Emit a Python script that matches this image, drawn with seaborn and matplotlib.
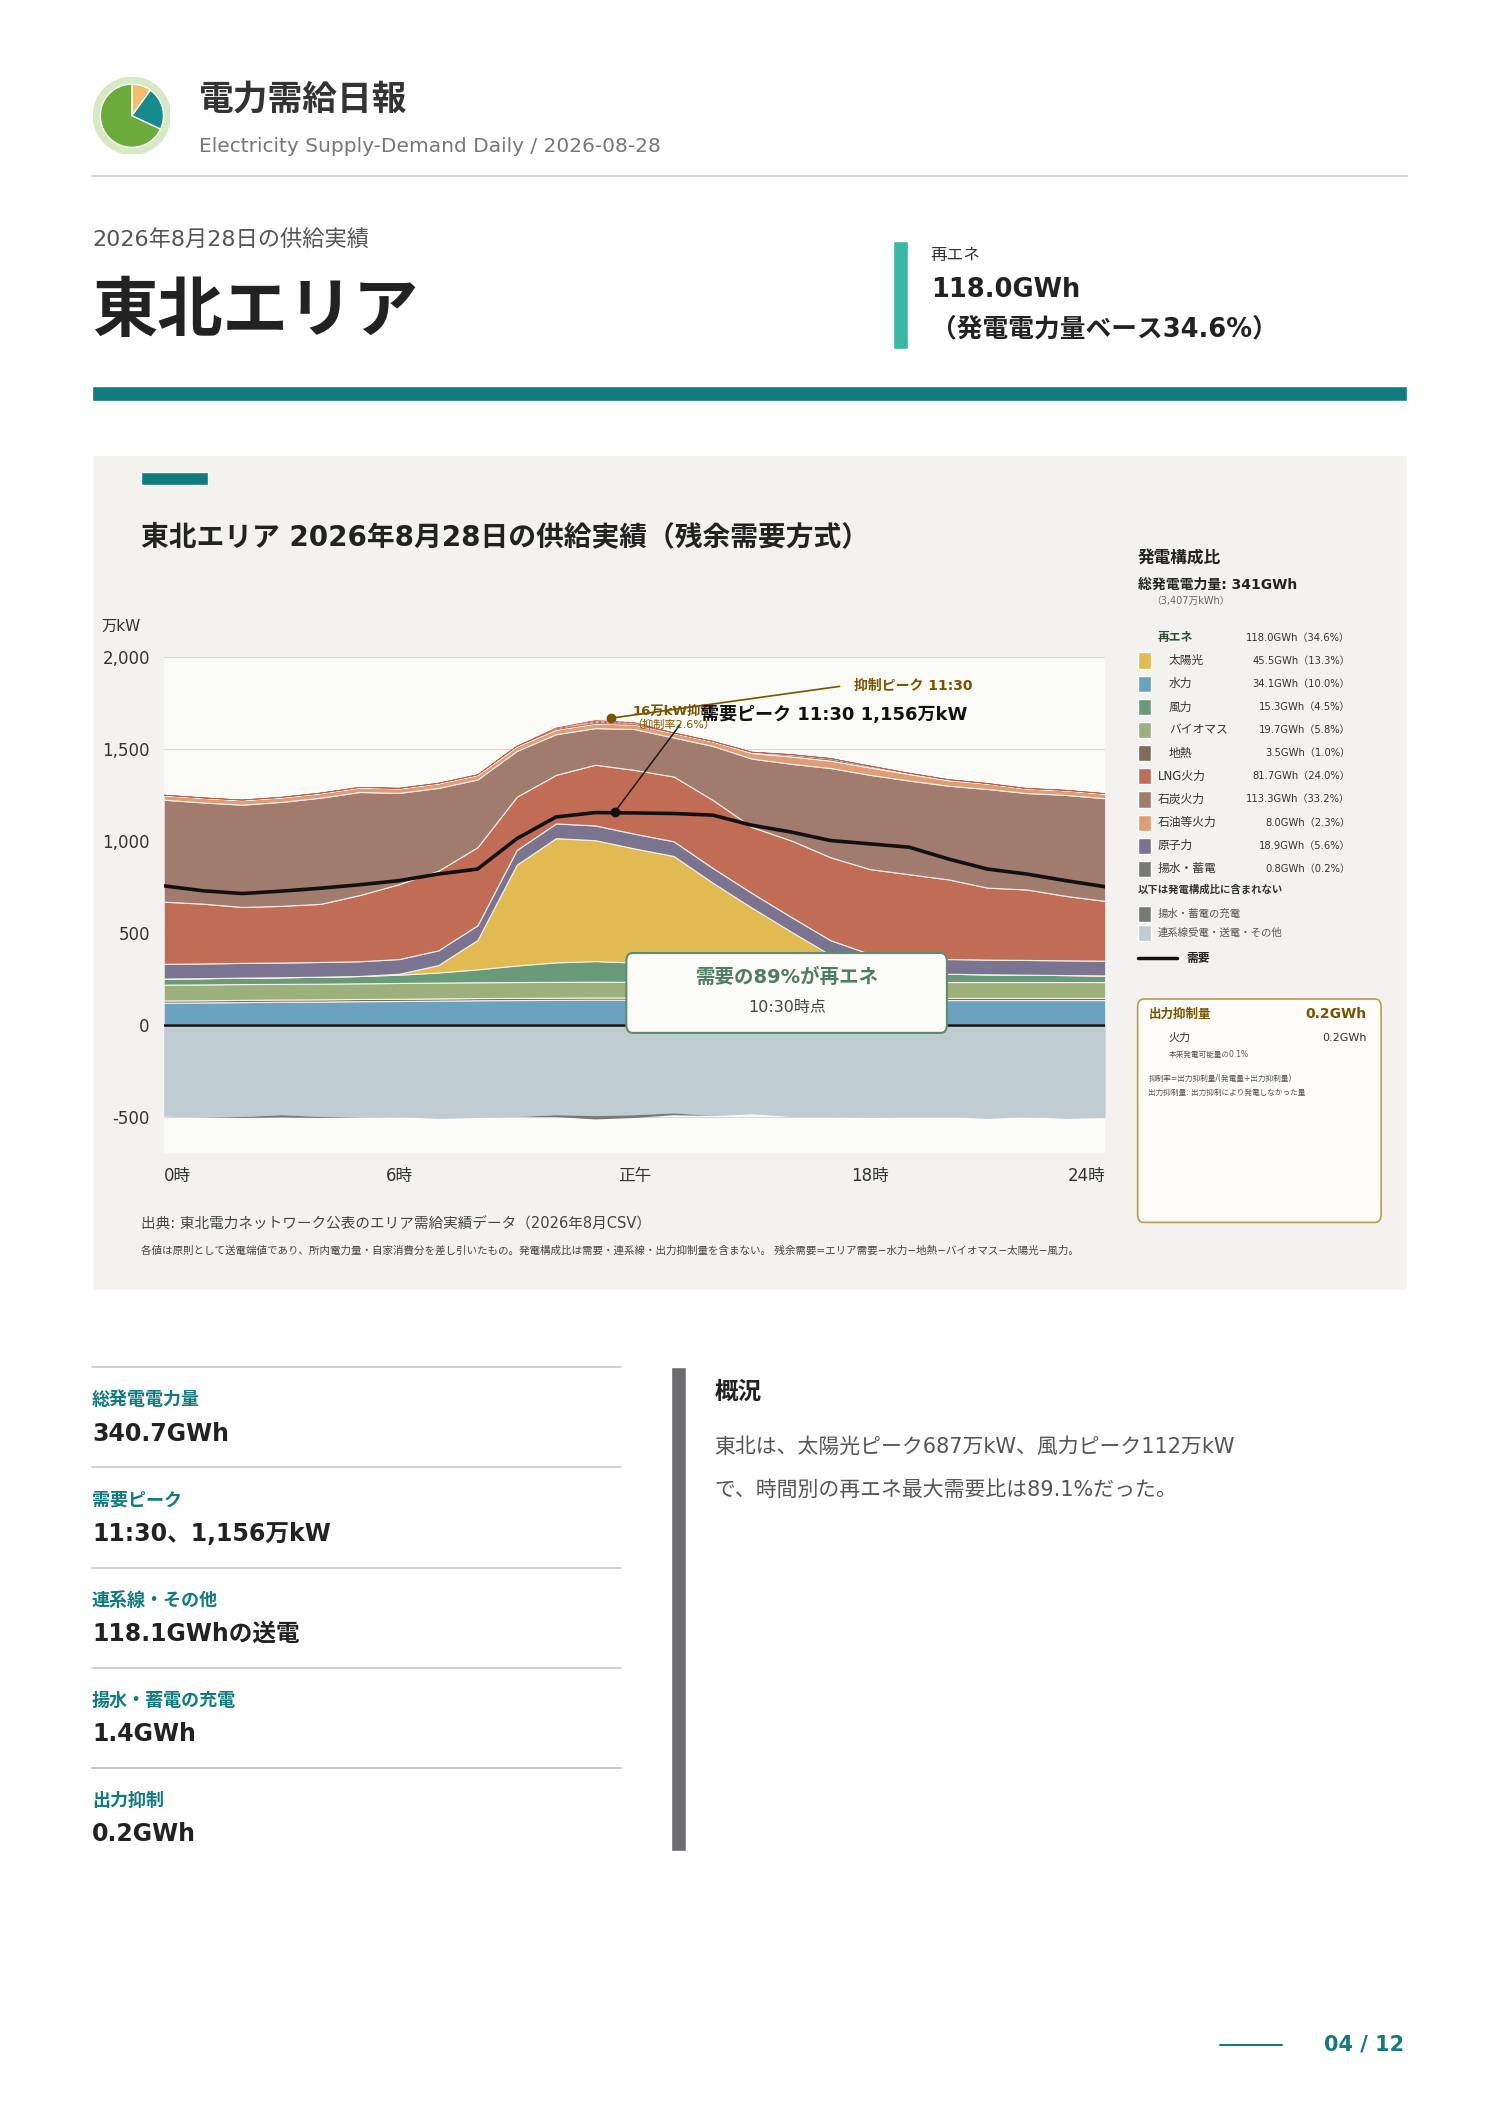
import numpy as np
import pandas as pd
import matplotlib
matplotlib.use("Agg")
import matplotlib.pyplot as plt
from matplotlib.patches import Rectangle, FancyBboxPatch, Circle
from matplotlib.lines import Line2D
import seaborn as sns

sns.set_theme(style="white")
plt.rcParams["font.family"] = ["DejaVu Sans", "Noto Sans CJK JP"]
JP = ["Noto Sans CJK JP", "DejaVu Sans"]

# ---------------- data (万kW, hourly 0..24) ----------------
hours = list(range(25))
hydro = [119, 120, 122, 124, 125, 127, 128, 130, 132, 133, 134, 135, 135,
         134, 133, 132, 132, 133, 134, 134, 133, 133, 133, 133, 133]
geothermal = [12, 12, 12, 12, 12, 12, 12, 12, 12, 12, 12, 12, 12,
              12, 12, 12, 12, 12, 12, 12, 12, 12, 12, 12, 12]
biomass = [86, 86, 86, 85, 85, 85, 86, 86, 86, 86, 86, 86, 85,
           85, 85, 85, 85, 85, 86, 86, 86, 86, 86, 86, 86]
wind = [33, 34, 35, 36, 38, 40, 45, 55, 70, 90, 106, 112, 105,
        95, 85, 75, 65, 58, 52, 48, 45, 42, 40, 38, 36]
solar = [0, 0, 0, 0, 0, 0, 5, 40, 160, 548, 675, 657, 620,
         590, 455, 330, 210, 90, 20, 0, 0, 0, 0, 0, 0]
nuclear = [80, 80, 80, 80, 80, 80, 80, 80, 80, 80, 80, 80, 80,
           80, 80, 80, 80, 80, 80, 80, 80, 80, 80, 80, 80]
lng = [338, 325, 304, 308, 316, 360, 407, 433, 424, 289, 264, 330, 347,
       352, 370, 359, 416, 451, 461, 457, 433, 391, 383, 350, 325]
coal = [554, 550, 556, 565, 577, 560, 496, 450, 368, 249, 221, 199, 222,
        212, 294, 372, 417, 485, 512, 509, 509, 536, 524, 549, 558]
oil = [25, 25, 25, 25, 25, 25, 25, 25, 25, 25, 25, 25, 25,
       25, 25, 30, 40, 40, 40, 35, 30, 30, 25, 25, 25]
pumped = [0, 0, 0, 0, 0, 0, 0, 0, 0, 0, 0, 0, 0,
          0, 0, 5, 10, 12, 8, 5, 3, 0, 0, 0, 0]
curtail = [0, 0, 0, 0, 0, 0, 0, 0, 0, 0, 8, 16, 10,
           0, 0, 0, 0, 0, 0, 0, 0, 0, 0, 0, 0]
interconnect = [-497, -505, -500, -490, -500, -505, -500, -510, -505, -500, -490, -495, -490,
                -480, -495, -485, -500, -500, -505, -500, -500, -510, -500, -510, -505]
pump_charge = [0, 0, -5, -12, -5, 0, 0, 0, 0, 0, -10, -18, -15,
               -10, 0, 0, 0, 0, 0, 0, 0, 0, 0, 0, 0]
demand = [754, 727, 712, 725, 741, 760, 782, 818, 845, 1010, 1128, 1152, 1150,
          1147, 1138, 1083, 1046, 1000, 982, 964, 900, 845, 818, 782, 749]
peak_hour, peak_value = 11.5, 1156

yticks = [-500, 0, 500, 1000, 1500, 2000]
xtick_pos = [0, 6, 12, 18, 24]
xtick_lab = ["0時", "6時", "正午", "18時", "24時"]

legend_names = ["太陽光", "水力", "風力", "バイオマス", "地熱", "LNG火力", "石炭火力",
                "石油等火力", "原子力", "揚水・蓄電"]
legend_vals = ["45.5GWh（13.3%）", "34.1GWh（10.0%）", "15.3GWh（4.5%）", "19.7GWh（5.8%）",
               "3.5GWh（1.0%）", "81.7GWh（24.0%）", "113.3GWh（33.2%）", "8.0GWh（2.3%）",
               "18.9GWh（5.6%）", "0.8GWh（0.2%）"]
kpi_labels = ["総発電電力量", "需要ピーク", "連系線・その他", "揚水・蓄電の充電", "出力抑制"]
kpi_values = ["340.7GWh", "11:30、1,156万kW", "118.1GWhの送電", "1.4GWh", "0.2GWh"]
logo_shares = [10, 22, 68]

C = {"solar": "#e1bb52", "hydro": "#6aa2c0", "wind": "#6a9b78", "biomass": "#9bb07b",
     "geo": "#7e6a57", "lng": "#c16d56", "coal": "#a07b6e", "oil": "#e09c72",
     "nuclear": "#7b7490", "pumped": "#767a72", "inter": "#bfccd1"}
TEAL = "#117c80"
legend_colors = [C["solar"], C["hydro"], C["wind"], C["biomass"], C["geo"], C["lng"],
                 C["coal"], C["oil"], C["nuclear"], C["pumped"]]

# ---------------- page ----------------
W, H = 1100, 1555
fig = plt.figure(figsize=(14.88, 21.05), dpi=100)
fig.patch.set_facecolor("white")


def P(x, y):
    return x / W, 1 - y / H


def txt(x, y, s, size, color="#222", weight="normal", ha="left", va="center", **kw):
    fig.text(*P(x, y), s, fontsize=size, color=color, fontweight=weight, ha=ha, va=va, **kw)


def rect(x0, y0, x1, y1, color, z=-5, **kw):
    fig.patches.append(Rectangle(P(x0, y1), (x1 - x0) / W, (y1 - y0) / H, facecolor=color,
                                 transform=fig.transFigure, zorder=z, **kw))


def hline(x0, x1, y, color, lw):
    fig.lines.append(Line2D([x0 / W, x1 / W], [1 - y / H] * 2, color=color, lw=lw,
                            transform=fig.transFigure))


# logo
lax = fig.add_axes([69 / W, 1 - 114 / H, 57 / W, 57 / H])
lax.add_patch(Circle((0, 0), 1.0, color="#d6e8c4"))
lax.pie(logo_shares, colors=["#f5be6a", "#138a8c", "#6aab3a"], startangle=90,
        counterclock=False, radius=0.82)
lax.set_xlim(-1, 1); lax.set_ylim(-1, 1); lax.set_aspect("equal"); lax.axis("off")

txt(147, 73, "電力需給日報", 25, "#333", "bold", family=JP)
txt(147, 108, "Electricity Supply-Demand Daily / 2026-08-28", 14.5, "#777")
hline(68, 1040, 130, "#cccccc", 1.2)

txt(68, 177, "2026年8月28日の供給実績", 16, "#555")
txt(68, 230, "東北エリア", 47, "#222", "bold", family=JP)
rect(660, 178, 671, 258, "#3cb7a5")
txt(688, 189, "再エネ", 12, "#333", family=JP)
txt(688, 214, "118.0GWh", 18.5, "#222", "bold")
txt(688, 243, "（発電電力量ベース34.6%）", 18.5, "#222", "bold")
rect(68, 285, 1040, 296, TEAL)

# chart panel
rect(68, 336, 1040, 953, "#f3f2ee", z=-10)
rect(104, 349, 154, 358, TEAL)
txt(104, 397, "東北エリア 2026年8月28日の供給実績（残余需要方式）", 20, "#222", "bold")
txt(75, 463, "万kW", 11, "#333")

ax = fig.add_axes([121 / W, 1 - 852 / H, (817 - 121) / W, (852 - 485) / H])
ax.set_facecolor("#fafaf6")
pos_layers = [hydro, geothermal, biomass, wind, solar, nuclear, lng, coal, oil, pumped]
pos_cols = [C["hydro"], C["geo"], C["biomass"], C["wind"], C["solar"], C["nuclear"],
            C["lng"], C["coal"], C["oil"], C["pumped"]]
ax.stackplot(hours, *pos_layers, colors=pos_cols, edgecolor="#f5efe8", linewidth=0.8)
top = np.sum(pos_layers, axis=0)
ax.fill_between(hours, top, top + np.array(curtail), facecolor="#e6b4a8",
                edgecolor="#c06050", hatch="...", linewidth=0.6)
ax.fill_between(hours, 0, interconnect, color=C["inter"], linewidth=0)
base = np.array(interconnect)
ax.fill_between(hours, base, base + np.array(pump_charge), color=C["pumped"], linewidth=0)
ax.axhline(0, color="#111", lw=1.8)
df = pd.DataFrame({"hour": hours, "demand": demand})
sns.lineplot(data=df, x="hour", y="demand", ax=ax, color="#111", lw=2.6)
ax.plot([peak_hour], [peak_value], "o", color="#111", ms=6)
ax.plot([peak_hour - 0.1], [1665], "o", color="#7a5200", ms=6)
ax.annotate("", xy=(peak_hour, peak_value), xytext=(13.2, 1640),
            arrowprops=dict(arrowstyle="-", color="#111", lw=1))
ax.annotate("", xy=(peak_hour - 0.1, 1665), xytext=(17.3, 1840),
            arrowprops=dict(arrowstyle="-", color="#7a5200", lw=1.2))
ax.text(17.6, 1840, "抑制ピーク 11:30", fontsize=10, color="#7a5200", fontweight="bold", va="center")
ax.text(13.0, 1700, "16万kW抑制", fontsize=9.5, color="#7a5200", fontweight="bold", ha="center", va="center")
ax.text(13.0, 1630, "（抑制率2.6%）", fontsize=8, color="#7a5200", ha="center", va="center")
ax.text(13.7, 1680, "需要ピーク 11:30 1,156万kW", fontsize=13, color="#111", fontweight="bold", va="center")
ax.set_xlim(0, 24)
ax.set_ylim(-700, 2000)
ax.set_yticks(yticks)
ax.set_yticklabels([f"{v:,}" for v in yticks], fontsize=12, color="#333")
ax.set_xticks(xtick_pos)
ax.set_xticklabels(xtick_lab, fontsize=12, color="#333")
xl = ax.get_xticklabels()
xl[0].set_ha("left"); xl[-1].set_ha("right")
ax.tick_params(length=0, pad=10)
ax.set_xlabel(""); ax.set_ylabel("")
ax.grid(axis="y", color="#d8d8d4", lw=0.8)
ax.set_axisbelow(True)
for s in ax.spines.values():
    s.set_visible(False)

# callout
fig.patches.append(FancyBboxPatch(P(463, 763), (700 - 463) / W, (763 - 704) / H,
                                  boxstyle="round,pad=0,rounding_size=0.004",
                                  facecolor="#fbfbf8", edgecolor="#5e8c6c", lw=1.5,
                                  transform=fig.transFigure, zorder=5))
txt(582, 722, "需要の89%が再エネ", 14, "#4d7d5e", "bold", ha="center", zorder=6)
txt(582, 744, "10:30時点", 11.5, "#444", ha="center", zorder=6)

txt(104, 904, "出典: 東北電力ネットワーク公表のエリア需給実績データ（2026年8月CSV）", 10.5, "#444")
txt(104, 924, "各値は原則として送電端値であり、所内電力量・自家消費分を差し引いたもの。発電構成比は需要・連系線・出力抑制量を含まない。"
    " 残余需要=エリア需要−水力−地熱−バイオマス−太陽光−風力。", 7.6, "#444")

# legend panel
txt(841, 412, "発電構成比", 12, "#222", "bold", family=JP)
txt(841, 432, "総発電電力量: 341GWh", 10, "#222", "bold")
txt(851, 444, "（3,407万kWh）", 7, "#666")
txt(856, 471, "再エネ", 8.5, "#2c4a32", "bold", family=JP)
txt(998, 471, "118.0GWh（34.6%）", 7.2, "#333", ha="right")
for i, (n, v, c) in enumerate(zip(legend_names, legend_vals, legend_colors)):
    y = 488 + i * 17.1
    rect(841, y - 6, 851, y + 6, c)
    indent = 864 if i < 5 else 856
    txt(indent, y, n, 8.5, "#333")
    txt(998, y, v, 7.2, "#333", ha="right")
txt(841, 657, "以下は発電構成比に含まれない", 7.5, "#333", "bold", family=JP)
rect(841, 669, 851, 681, C["pumped"])
txt(856, 675, "揚水・蓄電の充電", 7.5, "#555", family=JP)
rect(841, 683, 851, 695, C["inter"])
txt(856, 689, "連系線受電・送電・その他", 7.5, "#555", family=JP)
hline(841, 870, 708, "#111", 2.5)
txt(877, 708, "需要", 8.5, "#222", "bold", family=JP)

fig.patches.append(FancyBboxPatch(P(841, 903), (1021 - 841) / W, (903 - 738) / H,
                                  boxstyle="round,pad=0,rounding_size=0.004",
                                  facecolor="#fdfcf8", edgecolor="#c29a45", lw=1.2,
                                  transform=fig.transFigure, zorder=-4))
txt(849, 749, "出力抑制量", 9, "#7a5200", "bold", family=JP)
txt(1010, 749, "0.2GWh", 10, "#7a5200", "bold", ha="right")
rect(849, 762, 858, 771, "#e4b1a6", edgecolor="#c77", linestyle="--", lw=0.6)
txt(864, 767, "火力", 8, "#333", family=JP)
txt(1010, 767, "0.2GWh", 8, "#333", ha="right")
txt(864, 779, "本来発電可能量の0.1%", 5.5, "#555")
txt(849, 797, "抑制率=出力抑制量/(発電量+出力抑制量)", 5.5, "#555")
txt(849, 807, "出力抑制量: 出力抑制により発電しなかった量", 5.5, "#555")

# KPIs
for i, (lab, val) in enumerate(zip(kpi_labels, kpi_values)):
    y0 = 1010 + i * 74
    hline(68, 459, y0, "#c8c8c8", 1.2)
    txt(68, y0 + 24, lab, 13, TEAL, "bold", family=JP)
    txt(68, y0 + 49, val, 17, "#222", "bold")
hline(68, 459, 1306, "#c8c8c8", 1.2)

rect(496, 1010, 507, 1367, "#6d6d70")
txt(528, 1028, "概況", 17, "#222", "bold", family=JP)
txt(528, 1069, "東北は、太陽光ピーク687万kW、風力ピーク112万kW", 15, "#555")
txt(528, 1101, "で、時間別の再エネ最大需要比は89.1%だった。", 15, "#555")

hline(902, 948, 1511, TEAL, 1.5)
txt(1038, 1510, "04 / 12", 15, TEAL, "bold", ha="right")

fig.savefig("out.png", dpi=100)
